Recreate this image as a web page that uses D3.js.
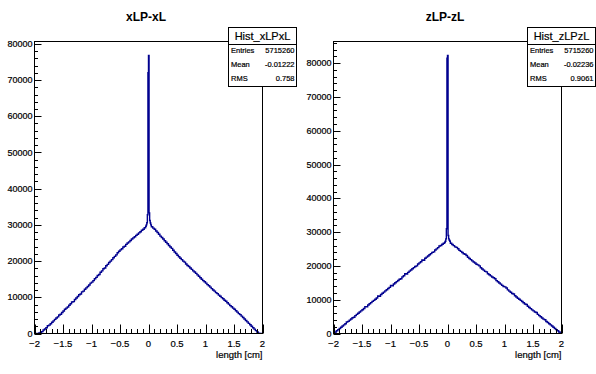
<!DOCTYPE html>
<html>
<head>
<meta charset="utf-8">
<title>xLP-xL / zLP-zL</title>
<script src="https://cdn.jsdelivr.net/npm/d3@7"></script>
<style>
  body { margin: 0; background: #fff; }
  svg text { font-family: "Liberation Sans", Arial, Helvetica, sans-serif; fill: #000; stroke: #000; stroke-width: 0.2; }
</style>
</head>
<body>
<svg width="596" height="374" id="canvas"></svg>
<script>
// bins of 0.025 cm from -2 to -0.05, core of 0.01 cm from -0.05 to 0.05, bins of 0.025 from 0.05 to 2
var xLowSide = [0, 0, 0, 120, 280, 520, 950, 1250, 1600, 2150, 2300, 2700, 3100, 3500, 3900, 4300, 4600, 5100, 5300, 5800,
  6200, 6700, 7000, 7300, 7800, 8200, 8700, 8800, 9400, 9800, 10200, 10700, 10900, 11500, 11700, 12200, 12600, 13000, 13400, 13900,
  14200, 14600, 15100, 15500, 16000, 16300, 16900, 17300, 17900, 18100, 18700, 19100, 19600, 20000, 20400, 20900, 21300, 21700, 22300, 22700,
  23100, 23400, 23900, 24100, 24600, 25000, 25300, 25700, 26100, 26400, 26700, 27100, 27400, 27800, 28100, 28500, 28800, 29200]
var xCore = [29600, 30000, 30600, 32800, 72000, 76800, 33300, 31200, 30500, 30000]
var xHighSide = [29500, 29100, 28800, 28300, 27900, 27400, 26900, 26500, 26100, 25600, 25200, 24800, 24300, 23900, 23500, 23000, 22500, 22100, 21600, 21200,
  20800, 20400, 20000, 19700, 19200, 18800, 18500, 18100, 17700, 17300, 17000, 16600, 16200, 15800, 15400, 15000, 14600, 14300, 13900, 13500,
  13200, 12800, 12400, 12000, 11700, 11300, 11000, 10600, 10300, 9900, 9600, 9200, 8900, 8500, 8100, 7700, 7400, 7000, 6700, 6300,
  5900, 5500, 5200, 4800, 4400, 4000, 3600, 3200, 2800, 2400, 2000, 1600, 1200, 800, 400, 100, 0, 0]

var zLowSide = [100, 450, 800, 1150, 1500, 1850, 2200, 2550, 2900, 3400, 3600, 3950, 4300, 4650, 4800, 5300, 5650, 6000, 6350, 6700,
  7050, 7400, 7950, 7900, 8450, 8800, 9150, 9500, 9800, 10150, 10500, 11100, 11000, 11550, 11900, 12250, 12600, 12950, 13300, 13650,
  14200, 14100, 14650, 15000, 15350, 15700, 16050, 16200, 16750, 17100, 17700, 17600, 18100, 18450, 18800, 19150, 19500, 19850, 20000, 20550,
  20900, 21250, 21800, 21700, 22250, 22600, 22950, 23300, 23650, 24000, 24150, 24700, 25050, 25400, 25900, 26050, 26400, 26700]
var zCore = [27000, 27300, 28000, 31000, 81500, 82300, 29000, 28000, 27600, 27300]
var zHighSide = [26700, 26350, 26000, 25650, 25500, 25100, 24600, 24300, 23950, 23600, 23450, 23100, 22550, 22200, 21850, 21500, 21150, 20850, 20500, 20300,
  20000, 19450, 19100, 18750, 18400, 18250, 17700, 17400, 17050, 16700, 16500, 16200, 15650, 15300, 14950, 14600, 14250, 13900, 13800, 13450,
  12900, 12550, 12200, 11850, 11700, 11150, 10800, 10450, 10150, 9800, 9450, 9100, 8750, 8600, 8050, 7700, 7350, 7000, 6700, 6350,
  6200, 5650, 5300, 4950, 4600, 4250, 4050, 3550, 3250, 2900, 2550, 2200, 1850, 1500, 1150, 800, 450, 150]

var titles = ['xLP-xL', 'zLP-zL']
var statNames = ['Hist_xLPxL', 'Hist_zLPzL']
var statLabels = ['Entries', 'Mean', 'RMS']
var statValues = [['5715260', '-0.01222', '0.758'], ['5715260', '-0.02236', '0.9061']]
var xTicks = [-2, -1.5, -1, -0.5, 0, 0.5, 1, 1.5, 2]
var xLabel = 'length [cm]'

var lineColor = '#00008f'

function buildBins(low, core, high) {
  var pts = []
  low.forEach(function(c, i) { pts.push([-2 + 0.025 * i, c]) })
  core.forEach(function(c, i) { pts.push([-0.05 + 0.01 * i, c]) })
  high.forEach(function(c, i) { pts.push([0.05 + 0.025 * i, c]) })
  pts.push([2, high[high.length - 1]])
  return pts
}

var hists = [buildBins(xLowSide, xCore, xHighSide), buildBins(zLowSide, zCore, zHighSide)]

var svg = d3.select('#canvas')
var frame = {left: 34.5, right: 262.5, top: 41.5, bottom: 333.5}

hists.forEach(function(pts, k) {
  var g = svg.append('g').attr('transform', 'translate(' + (k * 299) + ',0)')

  var ymax = d3.max(pts, function(d) { return d[1] }) * 1.05
  var x = d3.scaleLinear().domain([-2, 2]).range([frame.left, frame.right])
  var y = d3.scaleLinear().domain([0, ymax]).range([frame.bottom, frame.top])

  g.append('clipPath').attr('id', 'clip' + k)
    .append('rect')
    .attr('x', frame.left).attr('y', frame.top)
    .attr('width', frame.right - frame.left).attr('height', frame.bottom - frame.top)

  // histogram outline
  var line = d3.line()
    .x(function(d) { return x(d[0]) })
    .y(function(d) { return y(d[1]) })
    .curve(d3.curveStepAfter)

  g.append('path')
    .datum(pts)
    .attr('d', line)
    .attr('fill', 'none')
    .attr('stroke', lineColor)
    .attr('stroke-width', 1.4)
    .attr('clip-path', 'url(#clip' + k + ')')

  // x axis ticks (inside)
  var xMinor = d3.range(-20, 21).map(function(i) { return i / 10 })
  g.append('g').selectAll('line')
    .data(xMinor)
    .enter()
    .append('line')
    .attr('x1', function(d) { return Math.round(x(d)) + 0.5 })
    .attr('x2', function(d) { return Math.round(x(d)) + 0.5 })
    .attr('y1', frame.bottom)
    .attr('y2', function(d, i) { return frame.bottom - (i % 5 == 0 ? 9 : 4.5) })
    .attr('stroke', '#000')
    .attr('stroke-width', 1)

  g.append('g').selectAll('text')
    .data(xTicks)
    .enter()
    .append('text')
    .attr('x', function(d) { return x(d) })
    .attr('y', 347)
    .attr('text-anchor', 'middle')
    .attr('font-size', 9.5)
    .text(function(d) { return d3.format('')(d) })

  g.append('text')
    .attr('x', frame.right)
    .attr('y', 357.5)
    .attr('text-anchor', 'end')
    .attr('font-size', 9.5)
    .text(xLabel)

  // y axis ticks (inside)
  var yMinor = d3.range(0, ymax, 2000)
  g.append('g').selectAll('line')
    .data(yMinor)
    .enter()
    .append('line')
    .attr('x1', frame.left)
    .attr('x2', function(d, i) { return frame.left + (i % 5 == 0 ? 7 : 3.5) })
    .attr('y1', function(d) { return Math.round(y(d)) + 0.5 })
    .attr('y2', function(d) { return Math.round(y(d)) + 0.5 })
    .attr('stroke', '#000')
    .attr('stroke-width', 1)

  g.append('g').selectAll('text')
    .data(d3.range(0, ymax, 10000))
    .enter()
    .append('text')
    .attr('x', frame.left - 2)
    .attr('y', function(d) { return y(d) + 3.1 })
    .attr('text-anchor', 'end')
    .attr('font-size', 9)
    .text(function(d) { return d })

  // frame
  g.append('rect')
    .attr('x', frame.left).attr('y', frame.top)
    .attr('width', frame.right - frame.left).attr('height', frame.bottom - frame.top)
    .attr('fill', 'none')
    .attr('stroke', '#000')
    .attr('stroke-width', 1)

  // title
  g.append('text')
    .attr('x', 146)
    .attr('y', 21)
    .attr('text-anchor', 'middle')
    .attr('font-size', 12)
    .attr('font-weight', 'bold')
    .style('stroke-width', 0)
    .text(titles[k])

  // stats box
  var box = {left: 228.5, right: 296.5, top: 27.5, bottom: 86.5, sep: 44.5}
  var sb = g.append('g')
  sb.append('rect')
    .attr('x', box.left).attr('y', box.top)
    .attr('width', box.right - box.left).attr('height', box.bottom - box.top)
    .attr('fill', '#fff').attr('stroke', '#000').attr('stroke-width', 1)
  sb.append('line')
    .attr('x1', box.left).attr('x2', box.right)
    .attr('y1', box.sep).attr('y2', box.sep)
    .attr('stroke', '#000')
  sb.append('text')
    .attr('x', (box.left + box.right) / 2)
    .attr('y', 40)
    .attr('text-anchor', 'middle')
    .attr('font-size', 11)
    .text(statNames[k])
  statLabels.forEach(function(lab, i) {
    var ty = 53 + i * 14
    sb.append('text')
      .attr('x', box.left + 2.5)
      .attr('y', ty)
      .attr('font-size', 7.5)
      .text(lab)
    sb.append('text')
      .attr('x', box.right - 2)
      .attr('y', ty)
      .attr('text-anchor', 'end')
      .attr('font-size', 7.5)
      .text(statValues[k][i])
  })
})
</script>
</body>
</html>
